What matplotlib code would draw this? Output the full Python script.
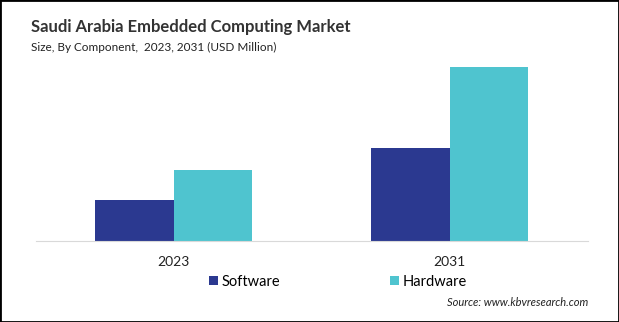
import matplotlib.pyplot as plt
import matplotlib.patches as patches
import numpy as np

years = ['2023', '2031']
software = [41, 93]
hardware = [71, 174]

plt.rcParams['font.family'] = ['Lato', 'DejaVu Sans']

fig = plt.figure(figsize=(6.19, 3.22), dpi=100)
ax = fig.add_axes([35.5/619, 1-241/322, 552/619, 181/322])

x = np.arange(len(years))
w = 0.285
ax.bar(x - w/2, software, w, color='#2b3990', label='Software')
ax.bar(x + w/2, hardware, w, color='#4fc4cf', label='Hardware')
ax.set_xlim(-0.5, 1.5)
ax.set_ylim(0, 181)
ax.set_yticks([])
ax.set_xticks(x)
ax.set_xticklabels(years, fontsize=10, color='#222222')
ax.tick_params(axis='x', length=0, pad=11)
for s in ['top', 'right', 'left']:
	ax.spines[s].set_visible(False)
ax.spines['bottom'].set_color('#d9d9d9')

fig.text(31/619, 1-27/322, 'Saudi Arabia Embedded Computing Market', fontsize=12, fontweight='bold', color='#333333', va='center')
fig.text(31/619, 1-47/322, 'Size, By Component,  2023, 2031 (USD Million)', fontsize=8.5, color='#222222', va='center')
fig.text(588/619, 1-303/322, 'Source: www.kbvresearch.com', fontsize=8, style='italic', color='#222222', ha='right', va='center')

fig.legend(loc='center', bbox_to_anchor=(338/619, 1-282/322), ncol=2, frameon=False,
	fontsize=10.5, handlelength=0.6, handleheight=0.6, handletextpad=0.3, columnspacing=7.5)

fig.add_artist(patches.Rectangle((0, 0), 1, 1, transform=fig.transFigure, fill=False, edgecolor='black', linewidth=2))

plt.savefig('out.png', dpi=100)
plt.close()
